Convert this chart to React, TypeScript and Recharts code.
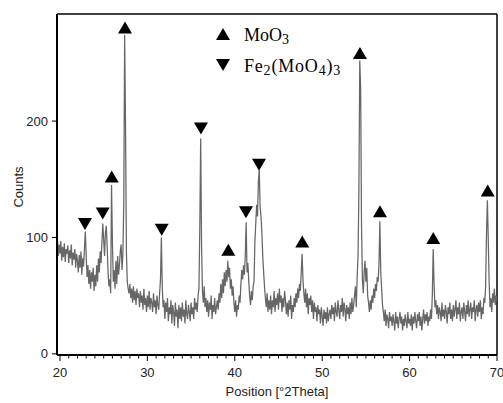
import * as React from 'react';
import { ComposedChart, Line, Scatter, XAxis, YAxis, ReferenceLine } from 'recharts';

// step scan, 0.1 deg from 19.7 to 70.0
const SCAN_START = 19.7;
const SCAN_STEP = 0.1;

const counts20s = [
  100, 84, 94,
  86, 97, 80, 92, 83, 95, 79, 90, 86, 93,
  78, 89, 82, 94, 76, 87, 81, 90, 74, 86,
  80, 70, 85, 74, 88, 68, 82, 75, 90, 105,
  84, 66, 76, 60, 72, 56, 70, 62, 74, 54,
  68, 58, 76, 62, 82, 70, 88, 78, 96, 112,
  98, 84, 104, 110, 92, 70, 58, 64, 52, 145,
  96, 62, 72, 56, 80, 60, 84, 68, 76, 88,
  94, 72, 86, 130, 274, 196, 88, 62, 56, 52,
  60, 48, 56, 44, 58, 46, 54, 42, 56, 48,
  52, 40, 54, 44, 50, 38, 56, 42, 48, 36,
];
const counts30s = [
  50, 40, 54, 38, 48, 44, 36, 52, 40, 46,
  34, 50, 42, 38, 52, 64, 100, 58, 40, 46,
  30, 44, 36, 48, 28, 40, 34, 46, 26, 42,
  36, 24, 44, 32, 38, 22, 42, 30, 40, 28,
  44, 32, 38, 26, 46, 34, 30, 42, 36, 28,
  44, 34, 40, 30, 48, 38, 44, 36, 50, 56,
  110, 185, 92, 54, 44, 58, 40, 48, 36, 46,
  32, 44, 38, 50, 30, 42, 36, 48, 34, 40,
  46, 38, 52, 44, 60, 48, 64, 52, 70, 58,
  72, 62, 80, 66, 74, 56, 64, 50, 58, 44,
];
const counts40s = [
  36, 46, 32, 42, 38, 50, 44, 60, 72, 64,
  76, 68, 84, 113, 70, 78, 62, 50, 42, 54,
  46, 58, 62, 96, 112, 128, 118, 148, 158, 126,
  118, 104, 84, 70, 58, 48, 40, 52, 36, 46,
  38, 50, 34, 46, 40, 54, 36, 48, 42, 52,
  38, 56, 44, 50, 36, 48, 40, 54, 46, 34,
  44, 32, 46, 38, 50, 30, 42, 36, 48, 40,
  52, 44, 56, 48, 60, 54, 70, 86, 64, 52,
  44, 56, 40, 52, 34, 48, 42, 50, 36, 46,
  30, 44, 36, 40, 28, 42, 34, 38, 26, 40,
];
const counts50s = [
  32, 24, 38, 30, 36, 26, 40, 28, 34, 38,
  30, 42, 34, 40, 28, 44, 36, 32, 46, 38,
  30, 42, 36, 48, 32, 44, 38, 28, 42, 34,
  40, 30, 44, 34, 48, 36, 42, 50, 58, 40,
  66, 84, 140, 252, 228, 110, 64, 52, 70, 80,
  62, 74, 50, 44, 36, 46, 38, 50, 44, 56,
  48, 60, 54, 66, 62, 78, 114, 70, 56, 42,
  36, 28, 38, 24, 34, 30, 22, 36, 28, 32,
  24, 34, 28, 20, 36, 26, 32, 22, 30, 36,
  26, 32, 20, 30, 24, 34, 28, 22, 36, 26,
];
const counts60s = [
  30, 24, 34, 20, 32, 26, 36, 28, 22, 34,
  28, 36, 24, 32, 20, 30, 38, 26, 34, 28,
  36, 24, 32, 28, 38, 30, 50, 90, 60, 40,
  46, 34, 42, 30, 40, 36, 28, 44, 32, 38,
  30, 42, 36, 26, 40, 34, 44, 30, 38, 28,
  42, 32, 38, 46, 30, 40, 34, 44, 28, 36,
  40, 30, 44, 36, 28, 42, 34, 46, 32, 38,
  44, 30, 40, 36, 46, 28, 38, 42, 32, 44,
  36, 46, 30, 40, 34, 48, 44, 58, 104, 132,
  98, 62, 40, 48, 36, 52, 44, 56, 42, 50,
  46,
];

// reflection markers: position [deg 2Theta] and marker height [counts]
const moo3Pos = [25.92, 27.44, 39.26, 47.72, 54.32, 56.61, 62.71, 68.94];
const moo3Mark = [152, 280, 89, 96, 258, 122, 99, 140];
const femoPos = [22.86, 24.89, 31.64, 36.13, 41.28, 42.77];
const femoMark = [112, 121, 107, 194, 122, 163];

const xMajor = [20, 30, 40, 50, 60, 70];
const yTicks = [0, 100, 200];

const X_MIN = 19.66;
const X_MAX = 70;
const Y_MIN = -1;
const Y_MAX = 292;

const sans = '"Liberation Sans", Arial, sans-serif';
const serif = '"Liberation Serif", "Times New Roman", serif';

const counts = [...counts20s, ...counts30s, ...counts40s, ...counts50s, ...counts60s];
const scan = counts.map((c, i) => ({ x: +(SCAN_START + i * SCAN_STEP).toFixed(2), counts: c }));
const moo3Data = moo3Pos.map((x, i) => ({ x, y: moo3Mark[i] }));
const femoData = femoPos.map((x, i) => ({ x, y: femoMark[i] }));
const xTicks = Array.from({ length: 51 }, (_, i) => 20 + i);

const UpTri = (p: any) => {
  const { cx, cy } = p;
  return <polygon points={`${cx},${cy - 6.5} ${cx - 7},${cy + 5.5} ${cx + 7},${cy + 5.5}`} fill="#000" />;
};
const DownTri = (p: any) => {
  const { cx, cy } = p;
  return <polygon points={`${cx - 7},${cy - 5.5} ${cx + 7},${cy - 5.5} ${cx},${cy + 6.5}`} fill="#000" />;
};

// axis line sits at y=355; recharts passes y = axis + tickSize(3) + tickMargin(10)
const XTick = (p: any) => {
  const { x, y, payload } = p;
  const major = xMajor.includes(payload.value);
  const axisY = y - 13;
  return (
    <g>
      <line x1={x} x2={x} y1={axisY} y2={axisY + (major ? 6 : 3.5)} stroke="#000" strokeWidth={1} />
      {major && (
        <text x={x} y={y} dy="0.71em" textAnchor="middle" fontSize={13} fontFamily={sans} fill="#222">
          {payload.value}
        </text>
      )}
    </g>
  );
};

const sub = { fontSize: 14, position: 'relative' as const, top: 3 };

export default function App() {
  return (
    <div style={{ position: 'absolute', left: 0, top: 0, width: 503, height: 403, background: '#fff' }}>
      <ComposedChart width={503} height={403} data={scan} margin={{ top: 14, right: 6, bottom: 0, left: 0 }}>
        <XAxis
          dataKey="x"
          type="number"
          domain={[X_MIN, X_MAX]}
          ticks={xTicks}
          interval={0}
          allowDataOverflow
          height={48}
          tickSize={3}
          tickMargin={10}
          tickLine={false}
          tick={<XTick />}
          axisLine={{ stroke: '#000', strokeWidth: 2 }}
          label={{ value: 'Position [°2Theta]', position: 'insideBottom', offset: 7, fill: '#222', fontSize: 13, fontFamily: sans }}
        />
        <YAxis
          type="number"
          domain={[Y_MIN, Y_MAX]}
          ticks={yTicks}
          allowDataOverflow
          width={57}
          tickSize={5}
          tickMargin={4}
          tick={{ fontSize: 13, fontFamily: sans, fill: '#222' }}
          tickLine={{ stroke: '#000', strokeWidth: 1 }}
          axisLine={{ stroke: '#000', strokeWidth: 2 }}
        />
        <ReferenceLine y={Y_MAX} stroke="#000" strokeWidth={1.5} ifOverflow="visible" />
        <ReferenceLine x={X_MAX} stroke="#000" strokeWidth={1.5} ifOverflow="visible" />
        <Line dataKey="counts" type="linear" stroke="#666" strokeWidth={1.25} dot={false} isAnimationActive={false} />
        <Scatter data={moo3Data} dataKey="y" shape={UpTri} isAnimationActive={false} />
        <Scatter data={femoData} dataKey="y" shape={DownTri} isAnimationActive={false} />
      </ComposedChart>

      <div
        style={{
          position: 'absolute', left: 18, top: 187, transform: 'translate(-50%, -50%) rotate(-90deg)',
          fontFamily: sans, fontSize: 13, color: '#222', whiteSpace: 'nowrap',
        }}
      >
        Counts
      </div>

      <svg style={{ position: 'absolute', left: 216, top: 28 }} width={14} height={13}>
        <polygon points="7,0 0,12 14,12" fill="#000" />
      </svg>
      <div style={{ position: 'absolute', left: 244, top: 25, fontFamily: serif, fontSize: 18, lineHeight: '20px', whiteSpace: 'nowrap' }}>
        MoO<span style={sub}>3</span>
      </div>
      <svg style={{ position: 'absolute', left: 216, top: 59 }} width={14} height={13}>
        <polygon points="0,0 14,0 7,12" fill="#000" />
      </svg>
      <div style={{ position: 'absolute', left: 244, top: 56, fontFamily: serif, fontSize: 18, lineHeight: '20px', whiteSpace: 'nowrap', letterSpacing: 0.8 }}>
        Fe<span style={sub}>2</span>(MoO<span style={sub}>4</span>)<span style={sub}>3</span>
      </div>
    </div>
  );
}
